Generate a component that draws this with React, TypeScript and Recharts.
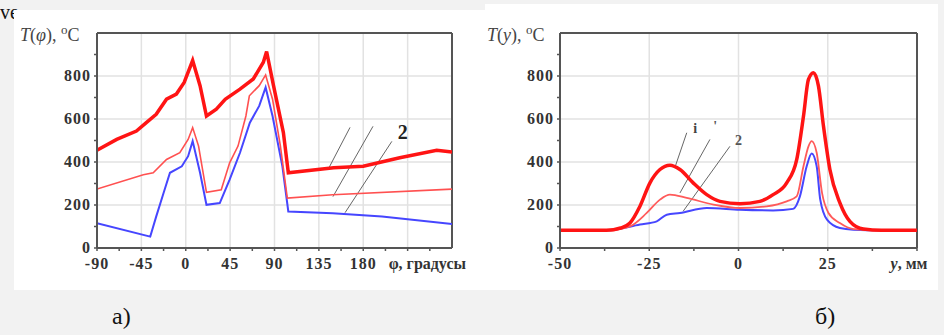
import React from "react";
import {
  LineChart, Line, XAxis, YAxis, ReferenceLine, ReferenceDot,
} from "recharts";

// ---- panel а): T(φ) ----
const phiThick = [-90, -70, -50, -40, -30, -19.5, -9.5, -1.6, 7, 14.5, 21, 31, 40, 55, 68.5, 78.7, 82, 89, 99, 104, 150, 180, 217, 254.5, 270];
const tThick = [455, 505, 544, 583, 622, 692, 716, 770, 872, 755, 614, 646, 692, 739, 786, 864, 914, 755, 537, 350, 373, 380, 420, 455, 446];

const phiThin = [-90, -43, -33, -19.5, -6, 2.4, 7, 13, 21, 36, 44.5, 53, 61, 64.5, 74.5, 81, 88, 96, 103, 149, 270];
const tThin = [274, 341, 350, 412, 443, 505, 560, 474, 259, 271, 396, 474, 614, 708, 755, 805, 692, 474, 232, 248, 274];

const phiBlue = [-90, -36, -30, -22.5, -16, -4, 2.4, 7, 14.5, 21, 34.5, 44.5, 55, 65, 74.5, 81, 88, 98, 104, 149, 199, 270];
const tBlue = [115, 53, 146, 256, 350, 380, 427, 497, 350, 201, 209, 318, 443, 583, 661, 747, 614, 380, 170, 162, 146, 112];

const phiMajor = [-90, -45, 0, 45, 90, 135, 180, 225];
const phiTicks = [-90, -67.5, -45, -22.5, 0, 22.5, 45, 67.5, 90, 112.5, 135, 157.5, 180, 202.5, 225, 247.5];
const phiLeaders = [
  [[166.6, 561], [144.3, 365]],
  [[189.9, 566], [149.3, 239]],
  [[209, 496], [161.5, 164]],
];

// ---- panel б): T(y) ----
const yThick = [-50, -37, -33, -30.4, -27.6, -24.8, -22, -19.2, -16.4, -12.7, -8.9, -5.2, 0.4, 6, 9.7, 13.5, 16.3, 18.2, 19.6, 21, 22.4, 23.8, 25.6, 28.4, 31.2, 35, 40, 50];
const tyThick = [82, 82, 93, 116, 194, 303, 365, 385, 365, 303, 248, 217, 206, 217, 248, 303, 411, 613, 784, 815, 753, 567, 365, 210, 124, 88, 82, 82];

const yThin = [-50, -37, -30.4, -25.7, -22, -19.2, -14.5, -7, 0.4, 7.9, 13.5, 16.3, 18.2, 19.6, 20.5, 21.9, 23.4, 25.2, 28.4, 32.2, 40, 50];
const tyThin = [82, 82, 101, 163, 225, 248, 233, 202, 186, 194, 217, 240, 380, 473, 497, 443, 256, 163, 116, 88, 82, 82];

const yBlue = [-50, -37, -27.6, -22.9, -20.1, -16.4, -8.9, 0.4, 9.7, 15.3, 17.2, 19.1, 20.5, 21.9, 22.9, 24.8, 28.4, 32.2, 40, 50];
const tyBlue = [82, 82, 109, 124, 155, 163, 186, 178, 175, 182, 240, 380, 439, 380, 225, 132, 93, 85, 82, 82];

const yMajor = [-50, -25, 0, 25, 50];
const yTicks = [-50, -37.5, -25, -12.5, 0, 12.5, 25, 37.5, 50];
const yLeaders = [
  [[-14.5, 536], [-17.7, 380]],
  [[-8, 505], [-16.4, 256]],
  [[-2.4, 473], [-15.5, 171]],
];

const tempTicks = [0, 100, 200, 300, 400, 500, 600, 700, 800, 900];
const tempGrid = [200, 400, 600, 800];

const zip = (xs: number[], ts: number[]) => xs.map((x, i) => ({ x, t: ts[i] }));

const FONT = "Liberation Serif, DejaVu Serif, serif";
const AXIS = "#555";
const GRID = "#e2e2e2";
const TICK_FS = 16;

function PhiTick(props: any) {
  const { x, y, payload } = props;
  const v = payload.value;
  if (!phiMajor.includes(v)) return null;
  if (v === 225) {
    return (
      <text x={x - 19} y={y} dy="0.71em" textAnchor="start" fill="#333" style={{ fontFamily: FONT }} fontWeight="bold" fontSize={TICK_FS}>
        φ, градусы
      </text>
    );
  }
  return (
    <text x={x} y={y} dy="0.71em" textAnchor="middle" fill="#333" style={{ fontFamily: FONT, letterSpacing: 1 }} fontWeight="bold" fontSize={TICK_FS}>
      {v}
    </text>
  );
}

function YmmTick(props: any) {
  const { x, y, payload } = props;
  const v = payload.value;
  if (!yMajor.includes(v)) return null;
  if (v === 50) {
    return (
      <text x={x - 8} y={y} dy="0.71em" textAnchor="middle" fill="#333" style={{ fontFamily: FONT }} fontWeight="bold" fontSize={TICK_FS}>
        <tspan fontStyle="italic">y</tspan>, мм
      </text>
    );
  }
  return (
    <text x={x} y={y} dy="0.71em" textAnchor="middle" fill="#333" style={{ fontFamily: FONT, letterSpacing: 1 }} fontWeight="bold" fontSize={TICK_FS}>
      {v}
    </text>
  );
}

function TempTick(props: any) {
  const { x, y, payload } = props;
  const v = payload.value;
  if (v % 200 !== 0) return null;
  return (
    <text x={x} y={y} dy="0.3em" textAnchor="end" fill="#333" style={{ fontFamily: FONT, letterSpacing: 1 }} fontWeight="bold" fontSize={TICK_FS}>
      {v}
    </text>
  );
}

function AxisTitle({ left, arg }: { left: number; arg: string }) {
  return (
    <div style={{ position: "absolute", left, top: 22, fontFamily: FONT, fontSize: 18, color: "#444", whiteSpace: "nowrap" }}>
      <i>T</i>(<i>{arg}</i>), <sup style={{ fontSize: 13 }}>o</sup>C
    </div>
  );
}

export default function App() {
  return (
    <div style={{ position: "absolute", left: 0, top: 0, width: 944, height: 335, background: "#f2f2f2", overflow: "hidden" }}>
      <div style={{ position: "absolute", left: 0, top: 1, fontFamily: FONT, fontSize: 20, color: "#111" }}>ve</div>
      <div style={{ position: "absolute", left: 14, top: 10, width: 471, height: 280, background: "#fff" }} />
      <div style={{ position: "absolute", left: 485, top: 4, width: 453, height: 286, background: "#fff" }} />

      {/* а) */}
      <div style={{ position: "absolute", left: 0, top: 0 }}>
        <LineChart width={480} height={290} margin={{ top: 33, right: 28, bottom: 0, left: 0 }}>
          {phiMajor.slice(1).map((v) => (
            <ReferenceLine key={"gx" + v} x={v} stroke={GRID} strokeWidth={1.5} />
          ))}
          {tempGrid.map((v) => (
            <ReferenceLine key={"gy" + v} y={v} stroke={GRID} strokeWidth={1.5} />
          ))}
          <XAxis type="number" dataKey="x" domain={[-90, 270]} ticks={phiTicks} interval={0} height={42}
            axisLine={{ stroke: AXIS, strokeWidth: 2 }} tickLine={{ stroke: AXIS, strokeWidth: 1.5 }} tickSize={3} tickMargin={7}
            tick={<PhiTick />} allowDataOverflow />
          <YAxis type="number" domain={[0, 1000]} ticks={tempTicks} interval={0} width={97}
            axisLine={{ stroke: AXIS, strokeWidth: 2 }} tickLine={{ stroke: AXIS, strokeWidth: 1.5 }} tickSize={3} tickMargin={3}
            tick={<TempTick />} allowDataOverflow />
          <ReferenceLine y={1000} stroke={AXIS} strokeWidth={2} />
          <ReferenceLine x={270} stroke={AXIS} strokeWidth={2} />
          {phiLeaders.map((s, i) => (
            <ReferenceLine key={"l" + i} segment={[{ x: s[0][0], y: s[0][1] }, { x: s[1][0], y: s[1][1] }]} stroke="#666" strokeWidth={1} />
          ))}
          <Line data={zip(phiBlue, tBlue)} dataKey="t" type="linear" stroke="#4646ff" strokeWidth={2} dot={false} isAnimationActive={false} />
          <Line data={zip(phiThin, tThin)} dataKey="t" type="linear" stroke="#ff5050" strokeWidth={1.6} dot={false} isAnimationActive={false} />
          <Line data={zip(phiThick, tThick)} dataKey="t" type="linear" stroke="#ff1414" strokeWidth={3.5} dot={false} isAnimationActive={false} />
          <ReferenceDot x={220} y={538} r={0} fill="none" stroke="none"
            label={{ value: "2", fill: "#222", fontFamily: FONT, fontWeight: "bold", fontSize: 20 }} />
        </LineChart>
        <AxisTitle left={20} arg="φ" />
      </div>

      {/* б) */}
      <div style={{ position: "absolute", left: 480, top: 0 }}>
        <LineChart width={464} height={290} margin={{ top: 33, right: 27, bottom: 0, left: 0 }}>
          {yMajor.slice(1, 4).map((v) => (
            <ReferenceLine key={"gx" + v} x={v} stroke={GRID} strokeWidth={1.5} />
          ))}
          {tempGrid.map((v) => (
            <ReferenceLine key={"gy" + v} y={v} stroke={GRID} strokeWidth={1.5} />
          ))}
          <XAxis type="number" dataKey="x" domain={[-50, 50]} ticks={yTicks} interval={0} height={42}
            axisLine={{ stroke: AXIS, strokeWidth: 2 }} tickLine={{ stroke: AXIS, strokeWidth: 1.5 }} tickSize={3} tickMargin={7}
            tick={<YmmTick />} allowDataOverflow />
          <YAxis type="number" domain={[0, 1000]} ticks={tempTicks} interval={0} width={80}
            axisLine={{ stroke: AXIS, strokeWidth: 2 }} tickLine={{ stroke: AXIS, strokeWidth: 1.5 }} tickSize={3} tickMargin={3}
            tick={<TempTick />} allowDataOverflow />
          <ReferenceLine y={1000} stroke={AXIS} strokeWidth={2} />
          <ReferenceLine x={50} stroke={AXIS} strokeWidth={2} />
          {yLeaders.map((s, i) => (
            <ReferenceLine key={"l" + i} segment={[{ x: s[0][0], y: s[0][1] }, { x: s[1][0], y: s[1][1] }]} stroke="#666" strokeWidth={1} />
          ))}
          <Line data={zip(yBlue, tyBlue)} dataKey="t" type="monotone" stroke="#4646ff" strokeWidth={2} dot={false} isAnimationActive={false} />
          <Line data={zip(yThin, tyThin)} dataKey="t" type="monotone" stroke="#ff5a5a" strokeWidth={1.8} dot={false} isAnimationActive={false} />
          <Line data={zip(yThick, tyThick)} dataKey="t" type="monotone" stroke="#ff1414" strokeWidth={3.5} dot={false} isAnimationActive={false} />
          <ReferenceDot x={-12.1} y={560} r={0} fill="none" stroke="none"
            label={{ value: "i", fill: "#444", fontFamily: FONT, fontWeight: "bold", fontSize: 14 }} />
          <ReferenceDot x={-6.5} y={565} r={0} fill="none" stroke="none"
            label={{ value: "'", fill: "#555", fontFamily: FONT, fontWeight: "bold", fontSize: 14 }} />
          <ReferenceDot x={0} y={500} r={0} fill="none" stroke="none"
            label={{ value: "2", fill: "#555", fontFamily: FONT, fontWeight: "bold", fontSize: 14 }} />
        </LineChart>
        <AxisTitle left={7} arg="y" />
      </div>

      <div style={{ position: "absolute", left: 112, top: 303, fontFamily: FONT, fontSize: 24, color: "#111" }}>а)</div>
      <div style={{ position: "absolute", left: 815, top: 303, fontFamily: FONT, fontSize: 24, color: "#111" }}>б)</div>
    </div>
  );
}
